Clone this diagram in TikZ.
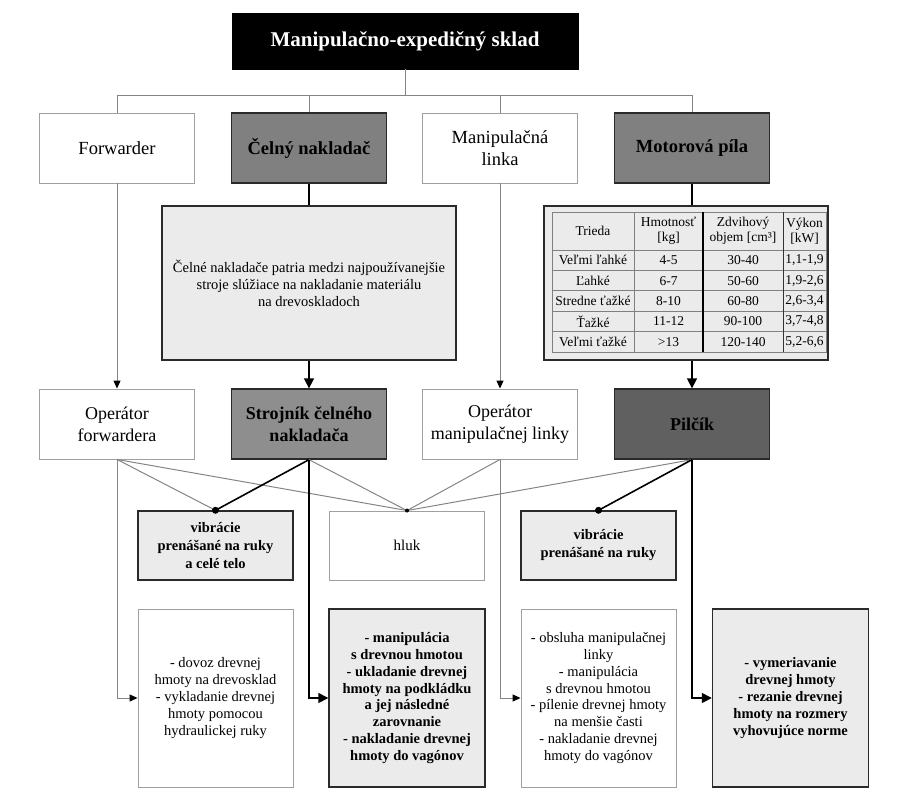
\documentclass[tikz,border=0pt]{standalone}
\usepackage{fontspec}
\setmainfont{Liberation Serif}
\usetikzlibrary{arrows.meta}
\definecolor{lgray}{HTML}{EBEBEB}
\definecolor{mgray}{HTML}{808080}
\definecolor{sgray}{HTML}{8E8E8E}
\definecolor{dgray}{HTML}{606060}
\definecolor{lineg}{HTML}{858585}
\definecolor{bordg}{HTML}{A0A0A0}
\definecolor{bordd}{HTML}{2A2A2A}
\begin{document}
\begin{tikzpicture}[x=1pt,y=-1pt,
  wbox/.style={rectangle,draw=bordg,fill=white,line width=0.9pt,align=center,inner sep=1pt},
  gbox/.style={rectangle,draw=bordd,line width=1.3pt,align=center,inner sep=1pt},
  lbox/.style={rectangle,draw=bordd,fill=lgray,line width=1.4pt,align=center,inner sep=1pt},
  topbox/.style={rectangle,draw=black,fill=black,text=white,align=center,font=\fontsize{21}{25}\selectfont\bfseries},
  rowone/.style={minimum width=155pt,minimum height=70pt,font=\fontsize{18.5}{22}\selectfont},
  rowoneb/.style={minimum width=155pt,minimum height=70pt,font=\fontsize{18.5}{22}\selectfont\bfseries},
  rowtwo/.style={minimum width=155pt,minimum height=70pt,font=\fontsize{18}{22}\selectfont},
  rowtwob/.style={minimum width=155pt,minimum height=70pt,font=\fontsize{18}{22}\selectfont\bfseries},
  hz/.style={minimum width=155pt,minimum height=69pt,font=\fontsize{15}{18}\selectfont},
  hzb/.style={minimum width=155pt,minimum height=69pt,font=\fontsize{14.5}{18}\selectfont\bfseries},
  bot/.style={minimum width=155pt,minimum height=178pt,font=\fontsize{14.5}{16.8}\selectfont},
  botb/.style={minimum width=156pt,minimum height=178pt,font=\fontsize{14.5}{16.8}\selectfont\bfseries},
  tcell/.style={inner sep=0pt,align=center,font=\fontsize{13.5}{15}\selectfont},
  gline/.style={draw=lineg,line width=1pt},
  bline/.style={draw=black,line width=1.6pt},
  garrow/.style={draw=lineg,line width=1pt,-{Triangle[length=8pt,width=7pt,color=black]}},
  barrow/.style={draw=black,line width=1.6pt,-{Triangle[length=10pt,width=10pt]}},
  bigdot/.style={circle,fill=black,inner sep=0pt,minimum size=7pt},
  smalldot/.style={circle,fill=black,inner sep=0pt,minimum size=4pt}
]
\useasboundingbox (0,0) rectangle (918,800);

% top
\node[topbox,minimum width=346pt,minimum height=56pt] (top) at (405,41) {Manipulačno-expedičný sklad};

% row 1
\node[wbox,rowone] (fw) at (117,148) {Forwarder};
\node[gbox,fill=mgray,rowoneb] (cn) at (309,148) {Čelný nakladač};
\node[wbox,rowone] (ml) at (500,148) {Manipulačná\\linka};
\node[gbox,fill=mgray,rowoneb] (mp) at (692,148) {Motorová píla};

\coordinate (bus) at (405,95);
\draw[gline] (top.south) -- (bus);
\draw[gline] (fw.north) |- (bus);
\draw[gline] (cn.north) |- (bus);
\draw[gline] (ml.north) |- (bus);
\draw[gline] (mp.north) |- (bus);

% info box
\node[lbox,minimum width=294pt,minimum height=154pt,font=\fontsize{14.5}{17}\selectfont] (info) at (309,283)
 {Čelné nakladače patria medzi najpoužívanejšie\\stroje slúžiace na nakladanie materiálu\\na drevoskladoch};

% table box
\node[rectangle,draw=bordd,line width=1.6pt,fill=lgray,minimum width=284pt,minimum height=154pt] (tab) at (686,283) {};
\draw[draw=gray,line width=0.7pt] (552,212) rectangle (826,352);
\foreach \yy in {250,270.4,290.8,311.2,331.6}{
  \draw[draw=gray,line width=0.7pt] (552,\yy) -- (826,\yy);
}
\draw[draw=gray,line width=0.8pt] (634,212) -- (634,352);
\draw[draw=black,line width=1.8pt] (703,212) -- (703,352);
\draw[draw=black!80,line width=0.9pt] (783,212) -- (783,352);

\node[tcell] (h1) at (593,231) {Trieda};
\node[tcell] (h2) at (668.5,231) {Hmotnosť\\{[kg]}};
\node[tcell] (h3) at (743,231) {Zdvihový\\objem [cm³]};
\node[tcell] (h4) at (804.5,231) {Výkon\\{[kW]}};

\node[tcell] (a1) at (593,260.2) {Veľmi ľahké};
\node[tcell] (a2) at (668.5,260.2) {4-5};
\node[tcell] (a3) at (743,260.2) {30-40};
\node[tcell] (a4) at (804.5,260.2) {1,1-1,9};

\node[tcell] (b1) at (593,280.6) {Ľahké};
\node[tcell] (b2) at (668.5,280.6) {6-7};
\node[tcell] (b3) at (743,280.6) {50-60};
\node[tcell] (b4) at (804.5,280.6) {1,9-2,6};

\node[tcell] (c1) at (593,301) {Stredne ťažké};
\node[tcell] (c2) at (668.5,301) {8-10};
\node[tcell] (c3) at (743,301) {60-80};
\node[tcell] (c4) at (804.5,301) {2,6-3,4};

\node[tcell] (d1) at (593,321.4) {Ťažké};
\node[tcell] (d2) at (668.5,321.4) {11-12};
\node[tcell] (d3) at (743,321.4) {90-100};
\node[tcell] (d4) at (804.5,321.4) {3,7-4,8};

\node[tcell] (e1) at (593,341.8) {Veľmi ťažké};
\node[tcell] (e2) at (668.5,341.8) {>13};
\node[tcell] (e3) at (743,341.8) {120-140};
\node[tcell] (e4) at (804.5,341.8) {5,2-6,6};

% row 2
\node[wbox,rowtwo] (ofw) at (117,424) {Operátor\\forwardera};
\node[gbox,fill=sgray,rowtwob] (sc) at (309,424) {Strojník čelného\\nakladača};
\node[wbox,rowtwo] (oml) at (500,424) {Operátor\\manipulačnej linky};
\node[gbox,fill=dgray,rowtwob] (pil) at (692,424) {Pilčík};

\draw[garrow] (fw.south) -- (ofw.north);
\draw[bline] (cn.south) -- (info.north);
\draw[barrow] (info.south) -- (sc.north);
\draw[garrow] (ml.south) -- (oml.north);
\draw[bline] (mp.south) -- (mp.south |- tab.north);
\draw[barrow] (pil.north |- tab.south) -- (pil.north);

% row 3
\node[lbox,hzb] (vib1) at (215.5,545.5) {vibrácie\\prenášané na ruky\\a celé telo};
\node[wbox,hz] (hluk) at (407,545.5) {hluk};
\node[lbox,hzb] (vib2) at (598.5,545.5) {vibrácie\\prenášané na ruky};

\draw[gline] (ofw.south) -- (vib1.north);
\draw[gline] (ofw.south) -- (hluk.north);
\draw[bline] (sc.south) -- (vib1.north);
\draw[gline] (sc.south) -- (hluk.north);
\draw[gline] (oml.south) -- (hluk.north);
\draw[gline] (pil.south) -- (hluk.north);
\draw[bline] (pil.south) -- (vib2.north);

\node[bigdot] (dot1) at (vib1.north) {};
\node[smalldot] (dot2) at (hluk.north) {};
\node[bigdot] (dot3) at (vib2.north) {};

% bottom row
\node[wbox,bot] (ba) at (215.5,698) {- dovoz drevnej\\hmoty na drevosklad\\- vykladanie drevnej\\hmoty pomocou\\hydraulickej ruky};
\node[lbox,botb] (bb) at (407,698) {- manipulácia\\s drevnou hmotou\\- ukladanie drevnej\\hmoty na podkládku\\a jej následné\\zarovnanie\\- nakladanie drevnej\\hmoty do vagónov};
\node[wbox,bot] (bc) at (598.5,698) {- obsluha manipulačnej\\linky\\- manipulácia\\s drevnou hmotou\\- pílenie drevnej hmoty\\na menšie časti\\- nakladanie drevnej\\hmoty do vagónov};
\node[lbox,botb] (bd) at (790.5,698) {- vymeriavanie\\drevnej hmoty\\- rezanie drevnej\\hmoty na rozmery\\vyhovujúce norme};

\draw[garrow] (ofw.south) |- (ba.west);
\draw[barrow] (sc.south) |- (bb.west);
\draw[garrow] (oml.south) |- (bc.west);
\draw[barrow] (pil.south) |- (bd.west);
\end{tikzpicture}
\end{document}
